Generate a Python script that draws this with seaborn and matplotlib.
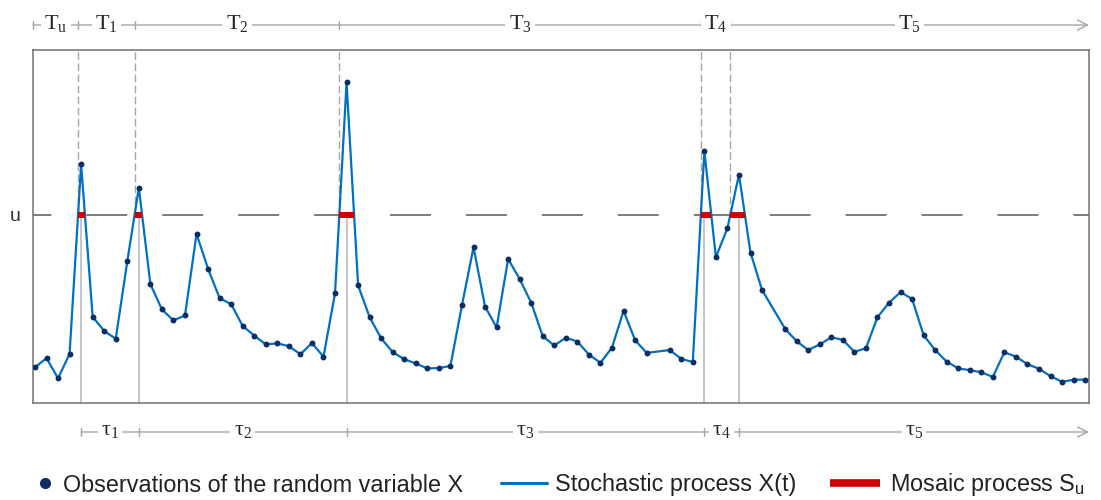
import numpy as np
import pandas as pd
import matplotlib
matplotlib.use("Agg")
import matplotlib.pyplot as plt
import seaborn as sns
from matplotlib.lines import Line2D

# 観測値 (時刻インデックス 54 と 64 は観測なし)
obs_time = list(range(0, 54)) + list(range(55, 64)) + list(range(65, 92))
obs_value = [
    10.1, 12.7, 7.0, 13.9, 67.6, 24.4, 20.4, 18.2, 40.1, 61.0,
    33.7, 26.5, 23.4, 24.8, 47.9, 38.0, 29.7, 28.0, 21.8, 19.1,
    16.6, 16.9, 16.1, 13.8, 17.0, 13.1, 31.1, 90.8, 33.3, 24.3,
    18.3, 14.4, 12.4, 11.2, 9.8, 9.9, 10.5, 27.7, 44.1, 27.3,
    21.4, 40.8, 35.1, 28.4, 18.9, 16.3, 18.5, 17.4, 13.7, 11.4,
    15.7, 26.1, 17.8, 14.2,
    15.0, 12.5, 11.6, 71.4, 41.3, 49.5, 64.7, 42.6, 32.0,
    21.0, 17.5, 15.0, 16.6, 18.6, 17.9, 14.5, 15.5, 24.3, 28.4,
    31.4, 29.5, 19.2, 15.0, 11.7, 9.8, 9.3, 8.7, 7.4, 14.4,
    13.1, 11.0, 9.7, 7.6, 6.0, 6.6, 6.6,
]
threshold_u = 53.3
T_subscripts = ["u", "1", "2", "3", "4", "5"]
tau_subscripts = ["1", "2", "3", "4", "5"]
legend_labels = ["Observations of the random variable X",
                 "Stochastic process X(t)",
                 r"Mosaic process S$_\mathregular{u}$"]

df = pd.DataFrame({"t": obs_time, "x": obs_value})

BLUE = "#0070C0"
NAVY = "#0B2D63"
RED = "#CC0000"
GREY = "#A6A6A6"
XMIN, XMAX = -0.17, 91.33

# 閾値の上抜け・下抜けを線形補間で求める
t = df["t"].to_numpy(float)
v = df["x"].to_numpy(float)
ups, downs = [], []
for i in range(len(v) - 1):
    frac = (threshold_u - v[i]) / (v[i + 1] - v[i]) if v[i + 1] != v[i] else 0
    tc = t[i] + frac * (t[i + 1] - t[i])
    if v[i] < threshold_u <= v[i + 1]:
        ups.append(tc)
    if v[i] >= threshold_u > v[i + 1]:
        downs.append(tc)
peaks = []
for a, b in zip(ups, downs):
    m = (t > a) & (t < b)
    peaks.append(t[m][np.argmax(v[m])])

sns.set_theme(style="white")
plt.rcParams["font.family"] = ["Liberation Sans", "DejaVu Sans"]
plt.rcParams["mathtext.fontset"] = "custom"
plt.rcParams["mathtext.rm"] = "Liberation Serif"

fig = plt.figure(figsize=(11.01, 5.0), dpi=100)
ax = fig.add_axes([33 / 1101, 1 - 403 / 500, (1089 - 33) / 1101, 353 / 500])

# 縦の補助線
for x0 in ups:
    ax.plot([x0, x0], [threshold_u, 100], color=GREY, lw=1.0,
            dashes=(5.5, 2.5), zorder=1)
for x0 in peaks:
    ax.plot([x0, x0], [0, threshold_u], color="#B5B5B5", lw=1.1, zorder=1)

# 閾値 u
ax.axhline(threshold_u, color="#595959", lw=1.1,
           linestyle=(14.8, (26.8, 22.9)), zorder=2)

sns.lineplot(data=df, x="t", y="x", color=BLUE, lw=1.6, ax=ax, zorder=3)
sns.scatterplot(data=df, x="t", y="x", color=NAVY, s=18, linewidth=0,
                ax=ax, zorder=5)

# モザイク過程
ax.hlines([threshold_u] * len(ups), ups, downs, color=RED, lw=4.3,
          zorder=4, capstyle="butt")

ax.set_xlim(XMIN, XMAX)
ax.set_ylim(0, 100)
ax.set_xticks([])
ax.set_yticks([threshold_u])
ax.set_yticklabels(["u"], fontsize=14, color="#333333")
ax.tick_params(axis="y", length=0, pad=9)
ax.set_xlabel("")
ax.set_ylabel("")
for sp in ax.spines.values():
    sp.set_color("#707070")
    sp.set_linewidth(1.1)

trans = ax.get_xaxis_transform()


def span_row(bounds, subs, sym, y, ty):
    ax.annotate("", xy=(XMAX, y), xytext=(bounds[0], y), xycoords=trans,
                textcoords=trans,
                arrowprops=dict(arrowstyle="->", color=GREY, lw=1.0,
                                mutation_scale=18, shrinkA=0, shrinkB=0),
                annotation_clip=False)
    d = 0.012
    for b in bounds:
        ax.plot([b, b], [y - d, y + d], transform=trans, color=GREY, lw=1.0,
                clip_on=False)
    edges = list(bounds) + [XMAX]
    for k, s in enumerate(subs):
        mid = (edges[k] + edges[k + 1]) / 2
        ax.text(mid, ty, r"$\mathrm{%s}_{\mathrm{%s}}$" % (sym, s),
                transform=trans, ha="center", va="center", fontsize=16,
                color="#262626", zorder=6,
                bbox=dict(boxstyle="square,pad=0.15", fc="white", ec="none"))


span_row([XMIN] + ups, T_subscripts, "T", (403 - 25) / 353, (403 - 24) / 353)
span_row(peaks, tau_subscripts, "τ", (403 - 432) / 353, (403 - 430) / 353)

# 凡例 (項目ごとに位置を合わせる)
handles = [
    Line2D([], [], marker="o", color=NAVY, linestyle="none", markersize=7),
    Line2D([], [], color=BLUE, lw=2.2),
    Line2D([], [], color=RED, lw=5.5, solid_capstyle="butt"),
]
leg_left = [36, 501, 830]
leg_hlen = [0.8, 1.97, 2.15]
leg_pad = [0.37, 0.34, 0.43]
for h, lab, x0, hl, hp in zip(handles, legend_labels, leg_left, leg_hlen, leg_pad):
    leg = fig.legend([h], [lab], loc="center left",
                     bbox_to_anchor=(x0 / 1101, 1 - 485 / 500),
                     frameon=False, fontsize=16.8, handlelength=hl,
                     handletextpad=hp, borderpad=0, borderaxespad=0,
                     labelcolor="#222222")

fig.savefig("out.png", dpi=100)
